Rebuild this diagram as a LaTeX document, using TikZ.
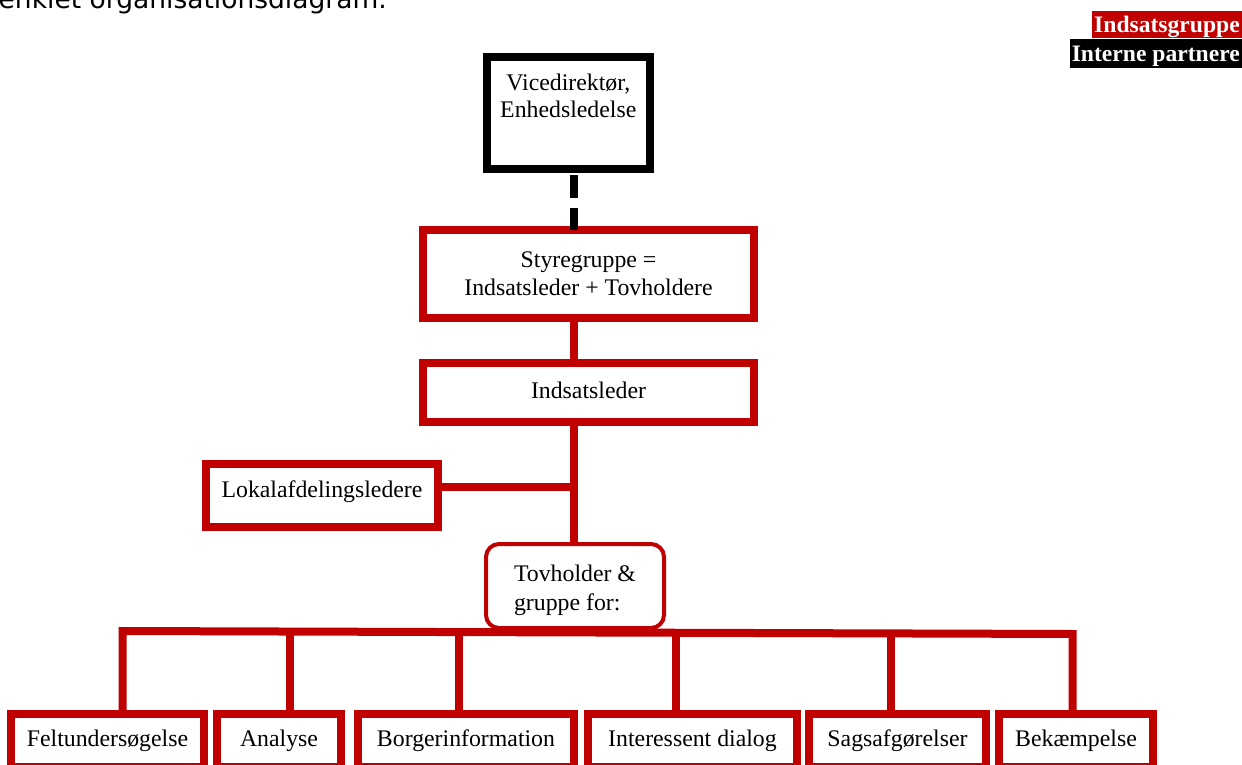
\documentclass[tikz,border=0pt]{standalone}
\usepackage{fontspec}
\setmainfont{Liberation Serif}
\newfontfamily\headfont{DejaVu Sans}
\usetikzlibrary{calc}
\definecolor{orgred}{RGB}{192,0,0}
\begin{document}
\begin{tikzpicture}[x=1pt,y=-1pt,
      box/.style={draw=orgred,line width=8pt,outer sep=0pt,inner sep=0pt,
            align=center,font=\fontsize{23.8}{28}\selectfont},
      single/.style={box,text height=16.3pt,text depth=5.2pt},
      link/.style={orgred,line width=8pt},
      legend/.style={text=white,inner xsep=2pt,inner ysep=2pt,anchor=north east,
            font=\bfseries\fontsize{23.6}{28}\selectfont}]
      \useasboundingbox (0,0) rectangle (1242,765);
      \clip (0,0) rectangle (1242,765);

      \node[anchor=base west,inner sep=0pt,font=\headfont\fontsize{26.5}{30}\selectfont]
            (title) at (-1.5,8.3) {enklet organisationsdiagram.};
      \node[legend,fill=orgred,text height=19pt,text depth=4pt] (grp) at (1242,11) {Indsatsgruppe};
      \node[legend,fill=black,text height=20.7pt,text depth=4pt] (ext) at (1242,39) {Interne partnere};

      \node[box,draw=black,minimum width=163.3pt,minimum height=112pt,
            font=\fontsize{23.8}{27.5}\selectfont]
            (vice) at (568.3,112.7) {Vicedirektør,\\Enhedsledelse\\[6pt]\mbox{}};
      \node[box,minimum width=331pt,minimum height=88pt] (styre) at (588.5,274)
            {Styregruppe =\\Indsatsleder + Tovholdere};
      \node[single,minimum width=331pt,minimum height=59pt] (leder) at (588.5,392.5) {Indsatsleder};
      \node[single,text depth=13.3pt,minimum width=232pt,minimum height=63pt]
            (lokal) at (322,495.5) {Lokalafdelingsledere};
      \node[box,line width=4pt,rounded corners=13pt,fill=white,align=left,
            minimum width=178pt,minimum height=84pt,font=\fontsize{23.8}{29}\selectfont]
            (tov) at (575,586) {\mbox{}\\[-3pt]Tovholder \&\\gruppe for:};

      \node[single,minimum width=193pt,minimum height=53pt] (felt) at (107.5,740.5) {Feltundersøgelse};
      \node[single,minimum width=124pt,minimum height=53pt] (ana) at (279,740.5) {Analyse};
      \node[single,minimum width=216pt,minimum height=53pt] (borger) at (466,740.5) {Borgerinformation};
      \node[single,minimum width=209pt,minimum height=53pt] (inter) at (692.5,740.5) {Interessent dialog};
      \node[single,minimum width=177pt,minimum height=53pt] (sags) at (897.5,740.5) {Sagsafgørelser};
      \node[single,minimum width=154pt,minimum height=53pt] (bek) at (1076,740.5) {Bekæmpelse};

      \coordinate (spine) at (574,0);
      \coordinate (arm) at (0,486.5);
      \coordinate (busL) at (122.5,631);
      \coordinate (busR) at (1072.5,634);

      \draw[line width=8pt,dash pattern=on 23pt off 10pt,dash phase=26.7pt]
            (vice.south -| spine) -- (styre.north -| spine);
      \draw[link] (styre.south -| spine) -- (leder.north -| spine);
      \draw[link] (leder.south -| spine) -- (tov.north -| spine);
      \draw[link] (lokal.east |- arm) -- (spine |- arm);
      \draw[link] (felt.north -| busL) -- (busL) -- (busR) -- (bek.north -| busR);
      \foreach \n/\x in {ana/290,borger/458.5,inter/676,sags/891}{
            \pgfmathsetmacro\busfrac{(\x-122.5)/950}
            \coordinate (b\n) at ($(busL)!\busfrac!(busR)$);
            \draw[link] (b\n) -- (\n.north -| b\n);
      }
\end{tikzpicture}
\end{document}
